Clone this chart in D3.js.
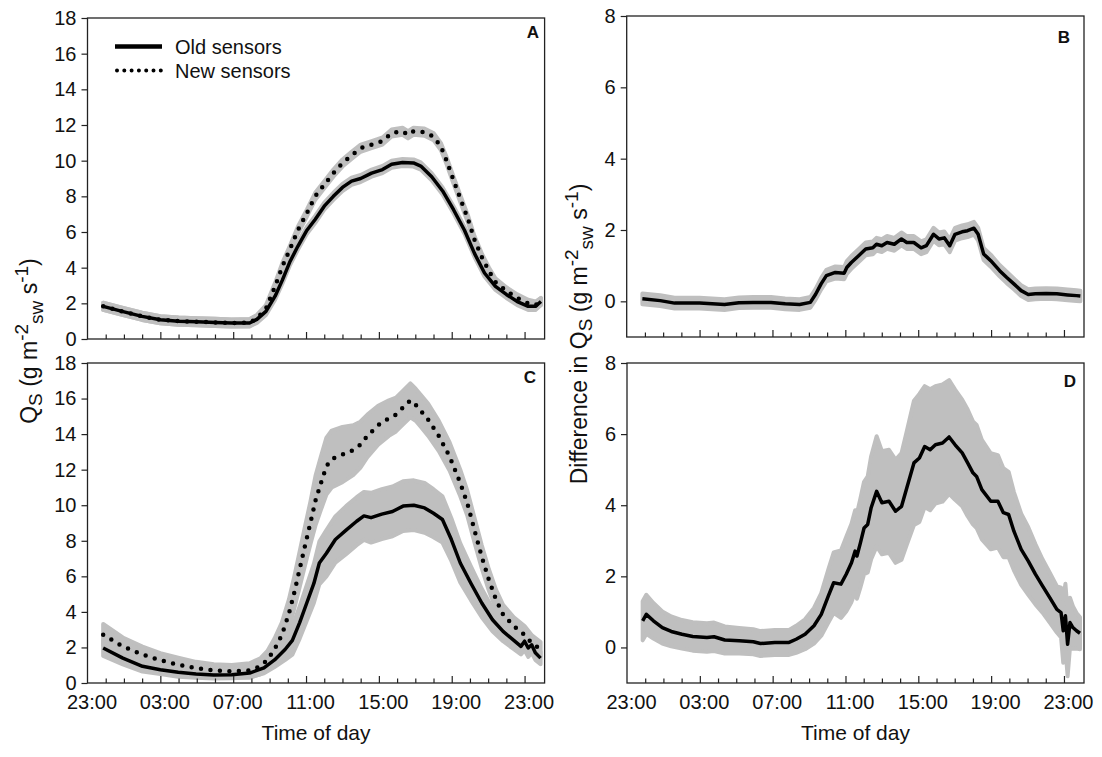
<!DOCTYPE html>
<html><head><meta charset="utf-8">
<script src="https://cdn.jsdelivr.net/npm/d3@7"></script>
<style>
body{margin:0;background:#fff}
text{font-family:"Liberation Sans",Arial,sans-serif;fill:#111}
</style>
</head><body>
<svg id="chart" width="1102" height="757"></svg>
<script>
// hours are counted from 23:00 of the previous day
const hourLabels = ["23:00","03:00","07:00","11:00","15:00","19:00","23:00"];
const majorHours = [0,4,8,12,16,20,24];
const qTicks = [0,2,4,6,8,10,12,14,16,18];
const diffTicks = [0,2,4,6,8];
const legendLabels = ["Old sensors","New sensors"];

// [hour, mean, half-width of grey band]
const oldA = [[0.86,1.83,0.2],[1.9,1.55,0.2],[3,1.27,0.2],[4,1.08,0.2],[5,1.0,0.2],[6,0.97,0.2],[7,0.93,0.2],[7.9,0.9,0.2],[8.9,0.9,0.2],[9.3,1.1,0.2],[9.8,1.55,0.2],[10.3,2.4,0.2],[10.7,3.3,0.2],[11.1,4.3,0.2],[11.55,5.2,0.2],[12.05,6.1,0.2],[12.5,6.7,0.2],[13,7.45,0.2],[13.5,8.0,0.2],[14,8.5,0.2],[14.5,8.85,0.2],[15,9.0,0.2],[15.6,9.3,0.2],[16.2,9.5,0.2],[16.7,9.8,0.2],[17.3,9.9,0.2],[17.9,9.87,0.2],[18.3,9.7,0.2],[18.9,9.1,0.2],[19.5,8.3,0.2],[20.1,7.25,0.2],[20.7,6.1,0.2],[21.25,4.8,0.2],[21.8,3.7,0.2],[22.4,2.95,0.2],[23,2.5,0.2],[23.6,2.1,0.2],[24.2,1.83,0.2],[24.6,1.83,0.2],[24.9,2.1,0.2]];
const newA = [[0.86,1.83,0.2],[1.9,1.55,0.2],[3,1.27,0.2],[4,1.08,0.2],[5,1.0,0.2],[6,0.97,0.2],[7,0.93,0.2],[7.9,0.9,0.2],[8.9,0.92,0.2],[9.3,1.15,0.2],[9.8,1.7,0.2],[10.3,2.95,0.2],[10.7,4.07,0.2],[11.1,5.0,0.2],[11.55,6.1,0.2],[12.05,7.07,0.2],[12.5,8.0,0.2],[13,8.65,0.2],[13.5,9.3,0.2],[14,9.87,0.2],[14.5,10.3,0.2],[15,10.7,0.2],[15.6,10.9,0.2],[16.2,11.1,0.2],[16.7,11.55,0.2],[17.3,11.65,0.2],[17.6,11.45,0.2],[17.9,11.65,0.2],[18.5,11.6,0.2],[19,11.35,0.2],[19.4,10.8,0.2],[19.7,10.05,0.2],[20.1,8.9,0.2],[20.5,7.8,0.2],[20.9,6.7,0.2],[21.25,5.57,0.2],[21.65,4.6,0.2],[22.05,3.8,0.2],[22.4,3.2,0.2],[23,2.7,0.2],[23.6,2.3,0.2],[24.2,2.0,0.2],[24.6,1.9,0.2],[24.9,2.1,0.2]];
const diffB = [[0.86,0.07,0.15],[1.84,0.02,0.15],[2.63,-0.05,0.15],[4,-0.05,0.15],[5.37,-0.09,0.15],[6.16,-0.04,0.15],[6.94,-0.03,0.15],[7.92,-0.03,0.15],[8.7,-0.07,0.15],[9.49,-0.09,0.15],[10.08,-0.03,0.15],[10.37,0.2,0.15],[10.67,0.49,0.16],[10.96,0.72,0.16],[11.45,0.81,0.17],[11.94,0.79,0.17],[12.08,0.95,0.18],[12.33,1.09,0.18],[12.73,1.28,0.18],[13.12,1.47,0.18],[13.51,1.5,0.18],[13.71,1.6,0.18],[14,1.56,0.18],[14.29,1.65,0.18],[14.69,1.6,0.18],[15.08,1.75,0.18],[15.37,1.65,0.18],[15.76,1.65,0.18],[16.16,1.5,0.18],[16.45,1.56,0.18],[16.84,1.88,0.18],[17.14,1.75,0.18],[17.43,1.78,0.18],[17.73,1.56,0.18],[18.02,1.88,0.18],[18.41,1.95,0.18],[18.71,1.98,0.18],[19.06,2.05,0.18],[19.29,1.88,0.18],[19.59,1.33,0.17],[19.98,1.14,0.17],[20.47,0.86,0.16],[20.86,0.67,0.16],[21.25,0.49,0.15],[21.65,0.3,0.15],[22.04,0.19,0.15],[22.43,0.21,0.15],[23.02,0.22,0.15],[23.61,0.21,0.15],[24.2,0.18,0.15],[24.69,0.16,0.15],[24.9,0.15,0.15]];
const oldC = [[0.86,1.97,0.45],[1.94,1.4,0.35],[3.02,0.94,0.3],[4,0.75,0.25],[4.98,0.6,0.25],[5.96,0.5,0.2],[6.94,0.45,0.2],[7.92,0.47,0.2],[8.9,0.56,0.25],[9.69,0.85,0.3],[10.27,1.3,0.4],[10.86,1.9,0.6],[11.25,2.4,0.8],[11.65,3.4,0.9],[12.04,4.5,1.0],[12.43,5.6,1.1],[12.73,6.75,1.2],[13.12,7.3,1.3],[13.61,8.07,1.3],[14.2,8.6,1.35],[14.78,9.1,1.35],[15.18,9.4,1.35],[15.57,9.3,1.4],[16.16,9.5,1.4],[16.75,9.65,1.4],[17.33,9.95,1.4],[17.92,10.0,1.4],[18.51,9.85,1.4],[19,9.55,1.35],[19.49,9.2,1.3],[19.98,8.07,1.2],[20.47,6.75,1.1],[21.06,5.6,0.95],[21.65,4.5,0.8],[22.24,3.56,0.65],[22.82,2.9,0.55],[23.41,2.4,0.5],[23.8,2.06,0.45],[24,2.35,0.5],[24.2,1.97,0.5],[24.39,2.15,0.45],[24.59,1.7,0.4],[24.88,1.4,0.35]];
const newC = [[0.86,2.72,0.6],[1.94,2.06,0.5],[3.02,1.6,0.45],[4,1.28,0.4],[4.98,1.03,0.4],[5.96,0.84,0.35],[6.94,0.71,0.35],[7.92,0.66,0.35],[8.9,0.71,0.4],[9.49,0.94,0.45],[9.88,1.3,0.5],[10.27,1.9,0.6],[10.67,2.7,0.7],[11.06,3.9,0.8],[11.35,5.07,0.9],[11.65,6.4,1.0],[11.94,7.7,1.1],[12.24,9.0,1.2],[12.53,10.3,1.4],[12.82,11.25,1.5],[13.12,12.2,1.6],[13.41,12.6,1.6],[14,12.85,1.55],[14.59,13.1,1.4],[14.98,13.4,1.3],[15.37,13.9,1.2],[15.96,14.5,1.1],[16.55,14.9,1.0],[16.94,15.1,0.95],[17.33,15.5,0.95],[17.73,15.9,0.95],[18.02,15.65,0.9],[18.31,15.3,0.9],[18.71,14.8,0.9],[19.29,13.9,0.85],[19.88,12.75,0.8],[20.47,11.25,0.75],[20.86,10.1,0.7],[21.25,8.6,0.7],[21.65,7.1,0.65],[22.04,5.8,0.6],[22.43,4.7,0.55],[22.82,3.85,0.55],[23.41,3.2,0.5],[24,2.7,0.5],[24.39,2.25,0.45],[24.88,1.9,0.4]];
const diffD = [[0.86,0.75,0.55],[1.06,0.93,0.55],[1.45,0.75,0.5],[1.94,0.56,0.45],[2.43,0.45,0.42],[3.02,0.37,0.4],[3.61,0.31,0.4],[4.39,0.28,0.4],[4.78,0.3,0.4],[5.37,0.21,0.38],[6.16,0.19,0.36],[6.94,0.16,0.35],[7.33,0.11,0.35],[8.12,0.14,0.35],[8.9,0.14,0.35],[9.29,0.23,0.38],[9.78,0.37,0.42],[10.27,0.61,0.5],[10.67,0.93,0.6],[11.06,1.45,0.75],[11.35,1.82,0.85],[11.75,1.78,0.95],[12.04,2.06,1.05],[12.33,2.38,1.1],[12.53,2.71,1.15],[12.63,2.57,1.2],[12.82,2.94,1.25],[13.02,3.36,1.3],[13.22,3.46,1.35],[13.41,3.93,1.45],[13.71,4.39,1.55],[14,4.07,1.45],[14.39,4.11,1.45],[14.75,3.83,1.45],[15.08,3.97,1.5],[15.37,4.49,1.6],[15.76,5.19,1.75],[16.06,5.33,1.8],[16.35,5.65,1.7],[16.65,5.56,1.7],[16.94,5.7,1.65],[17.33,5.75,1.65],[17.69,5.92,1.6],[18.02,5.7,1.55],[18.41,5.47,1.5],[18.71,5.19,1.5],[19,4.91,1.45],[19.2,4.81,1.45],[19.49,4.44,1.4],[19.98,4.11,1.35],[20.37,4.11,1.3],[20.67,3.79,1.25],[20.96,3.74,1.2],[21.25,3.27,1.1],[21.65,2.76,1.0],[22.04,2.43,0.95],[22.43,2.06,0.85],[22.82,1.73,0.75],[23.22,1.4,0.7],[23.61,1.07,0.65],[23.84,0.98,0.7],[23.96,0.47,0.9],[24.08,0.89,0.9],[24.2,0.09,0.9],[24.33,0.7,0.7],[24.49,0.56,0.6],[24.69,0.47,0.5],[24.88,0.4,0.45]];

const svg = d3.select("#chart");
const GREY = "#bfbfbf";

const panels = [
  {letter:"A", box:[87.5,544.6,18,339], dom:[0,18], yt:qTicks, xl:false, lp:[539,38],
   series:[{d:oldA,dot:false},{d:newA,dot:true}]},
  {letter:"B", box:[626.7,1084,16,337], dom:[-1,8], yt:diffTicks, xl:false, lp:[1070,43],
   series:[{d:diffB,dot:false}]},
  {letter:"C", box:[87.5,544.6,363,683], dom:[0,18], yt:qTicks, xl:true, lp:[536,383],
   series:[{d:oldC,dot:false},{d:newC,dot:true}]},
  {letter:"D", box:[627,1084,363,683], dom:[-1,8], yt:diffTicks, xl:true, lp:[1076,387],
   series:[{d:diffD,dot:false}]}
];

panels.forEach(p => {
  const [x0,x1,y0,y1] = p.box;
  const x = d3.scaleLinear().domain([0,25.1]).range([x0,x1]);
  const y = d3.scaleLinear().domain(p.dom).range([y1,y0]);
  const g = svg.append("g");
  const area = d3.area().x(d=>x(d[0])).y0(d=>y(d[1]-d[2])).y1(d=>y(d[1]+d[2]));
  const line = d3.line().x(d=>x(d[0])).y(d=>y(d[1]));
  p.series.forEach(s => {
    g.append("path").attr("d", area(s.d)).attr("fill", GREY)
      .attr("stroke", GREY).attr("stroke-width", 4).attr("stroke-linejoin","round");
  });
  p.series.forEach(s => {
    const path = g.append("path").attr("d", line(s.d)).attr("fill","none").attr("stroke","#000");
    if (s.dot) path.attr("stroke-width",4.5).attr("stroke-dasharray","0 9.5").attr("stroke-linecap","round");
    else path.attr("stroke-width",3.5).attr("stroke-linejoin","round");
  });
  // frame
  g.append("rect").attr("x",x0).attr("y",y0).attr("width",x1-x0).attr("height",y1-y0)
    .attr("fill","none").attr("stroke","#222").attr("stroke-width",1.3);
  // y axis
  const ya = g.append("g").attr("transform",`translate(${x0},0)`)
    .call(d3.axisLeft(y).tickValues(p.yt).tickSize(6).tickPadding(5).tickFormat(d3.format("d")));
  ya.select(".domain").remove();
  ya.selectAll("line").attr("stroke","#222").attr("stroke-width",1.2);
  ya.selectAll("text").attr("font-size",20).attr("fill","#111")
    .attr("font-family","'Liberation Sans',Arial,sans-serif");
  // x axis ticks (inward)
  const hours = d3.range(1,25);
  const xa = g.append("g").attr("transform",`translate(0,${y1})`)
    .call(d3.axisBottom(x).tickValues(hours).tickSize(-5).tickFormat(""));
  xa.select(".domain").remove();
  xa.selectAll("line").attr("stroke","#222").attr("stroke-width",1.2)
    .attr("y2", d => majorHours.includes(d) ? -7 : -4.5);
  if (p.xl) {
    g.selectAll(".xl").data(majorHours).enter().append("text")
      .attr("x", (d)=>x(d)+4.5).attr("y", y1+26).attr("text-anchor","middle")
      .attr("font-size",20).text((d,i)=>hourLabels[i]);
    g.append("text").attr("x",(x0+x1)/2).attr("y",740).attr("text-anchor","middle")
      .attr("font-size",21).text("Time of day");
  }
  g.append("text").attr("x",p.lp[0]).attr("y",p.lp[1]).attr("text-anchor","end")
    .attr("font-size",17).attr("font-weight","bold").text(p.letter);
});

// legend in panel A
const lg = svg.append("g");
lg.append("line").attr("x1",115).attr("x2",162).attr("y1",46.5).attr("y2",46.5)
  .attr("stroke","#000").attr("stroke-width",4.5);
lg.append("line").attr("x1",117).attr("x2",162).attr("y1",70.5).attr("y2",70.5)
  .attr("stroke","#000").attr("stroke-width",4).attr("stroke-dasharray","0 7.3").attr("stroke-linecap","round");
lg.append("text").attr("x",175).attr("y",53.5).attr("font-size",20).text(legendLabels[0]);
lg.append("text").attr("x",175).attr("y",77.5).attr("font-size",20).text(legendLabels[1]);

// y-axis titles
function yTitle(xpos, ypos, prefix) {
  const t = svg.append("text").attr("transform",`translate(${xpos},${ypos}) rotate(-90)`)
    .attr("text-anchor","middle").attr("font-size",23);
  t.append("tspan").text(prefix + "Q");
  t.append("tspan").attr("dy",5).attr("font-size",19).text("S");
  t.append("tspan").attr("dy",-5).text(" (g m");
  t.append("tspan").attr("dy",-9).attr("font-size",19).text("-2");
  t.append("tspan").attr("dy",15).attr("font-size",19).text("sw");
  t.append("tspan").attr("dy",-6).text(" s");
  t.append("tspan").attr("dy",-9).attr("font-size",19).text("-1");
  t.append("tspan").attr("dy",9).text(")");
}
yTitle(37, 341, "");
yTitle(587, 334, "Difference in ");
</script>
</body></html>
